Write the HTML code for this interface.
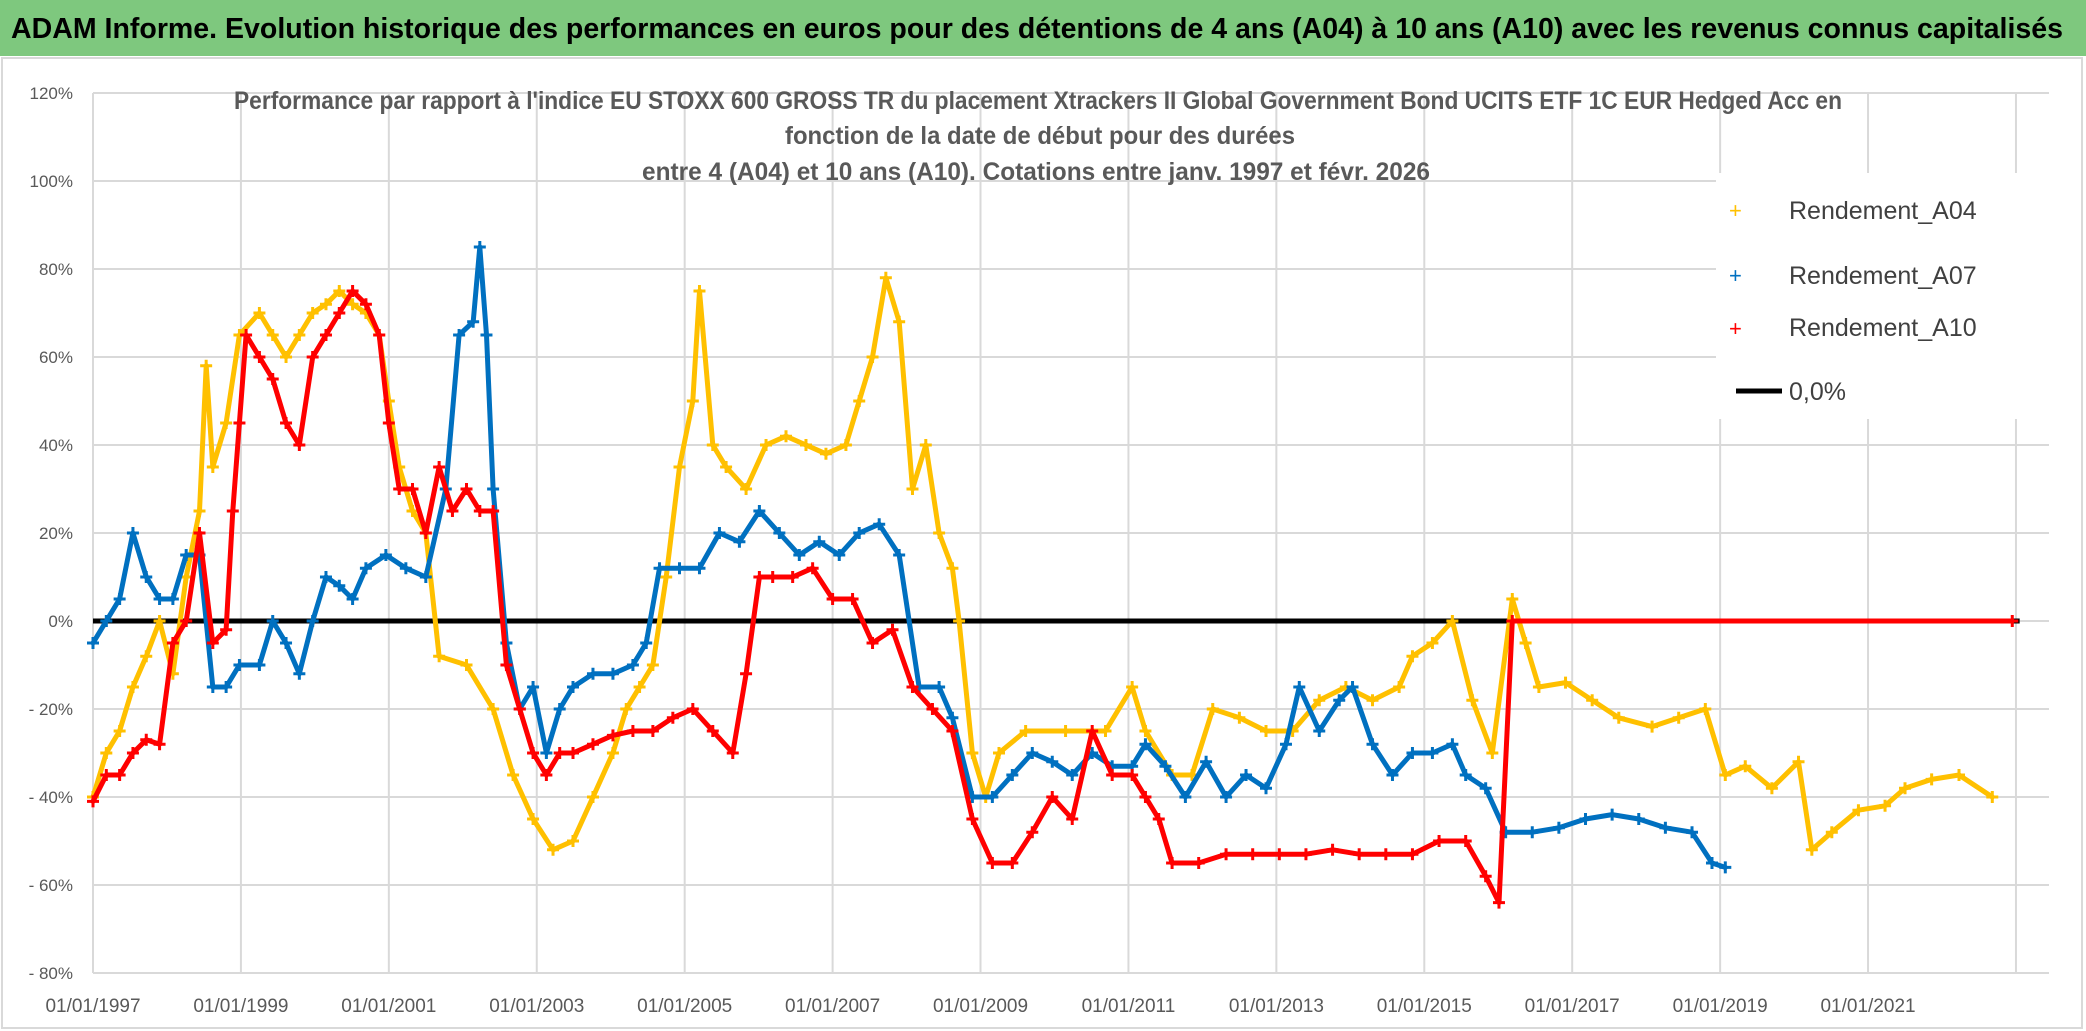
<!DOCTYPE html>
<html><head><meta charset="utf-8"><style>
html,body{margin:0;padding:0;background:#fff}
svg{display:block}
text{font-family:"Liberation Sans",sans-serif}
</style></head><body>
<svg id="chart" width="2086" height="1031" viewBox="0 0 2086 1031" xmlns="http://www.w3.org/2000/svg">
<rect x="0" y="0" width="2086" height="1031" fill="#fff"/>
<rect x="0" y="0" width="2086" height="56" fill="#7ec87e"/>
<text x="11" y="38" font-size="29" font-weight="bold" fill="#000" textLength="2052" lengthAdjust="spacingAndGlyphs">ADAM Informe. Evolution historique des performances en euros pour des détentions de 4 ans (A04) à 10 ans (A10) avec les revenus connus capitalisés</text>
<rect x="2" y="58" width="2080" height="970" fill="none" stroke="#d9d9d9" stroke-width="2"/>
<g id="grid"></g>
<g id="axes"></g>
<text x="1038" y="109" font-size="25" font-weight="bold" fill="#595959" text-anchor="middle" textLength="1608" lengthAdjust="spacingAndGlyphs">Performance par rapport à l'indice EU STOXX 600 GROSS TR  du placement Xtrackers II Global Government Bond UCITS ETF 1C EUR Hedged Acc en</text>
<text x="1040" y="144" font-size="25" font-weight="bold" fill="#595959" text-anchor="middle" textLength="510" lengthAdjust="spacingAndGlyphs">fonction de la date de début pour des durées</text>
<text x="1036" y="180" font-size="25" font-weight="bold" fill="#595959" text-anchor="middle" textLength="788" lengthAdjust="spacingAndGlyphs">entre 4 (A04) et 10 ans (A10). Cotations entre janv. 1997 et févr. 2026</text>
<g id="series"></g>
<g>
<rect x="1716" y="173" width="333" height="246" fill="#fff"/>
<text x="1729" y="218" font-size="22" fill="#ffc000">+</text>
<text x="1789" y="219" font-size="25" fill="#404040">Rendement_A04</text>
<text x="1729" y="283" font-size="22" fill="#0070c0">+</text>
<text x="1789" y="284" font-size="25" fill="#404040">Rendement_A07</text>
<text x="1729" y="336" font-size="22" fill="#ff0000">+</text>
<text x="1789" y="336" font-size="25" fill="#404040">Rendement_A10</text>
<line x1="1736" y1="391" x2="1782" y2="391" stroke="#000" stroke-width="5"/>
<text x="1789" y="400" font-size="25" fill="#404040">0,0%</text>
</g>
</svg>
<script>
const yTicks=[120,100,80,60,40,20,0,-20,-40,-60,-80];
const yTickLabels=["120%","100%","80%","60%","40%","20%","0%","- 20%","- 40%","- 60%","- 80%"];
const xTicks=[1997,1999,2001,2003,2005,2007,2009,2011,2013,2015,2017,2019,2021];
const xTickLabels=["01/01/1997","01/01/1999","01/01/2001","01/01/2003","01/01/2005","01/01/2007","01/01/2009","01/01/2011","01/01/2013","01/01/2015","01/01/2017","01/01/2019","01/01/2021"];
const a04Dates=[1997.0,1997.18,1997.36,1997.54,1997.72,1997.9,1998.08,1998.26,1998.44,1998.53,1998.62,1998.8,1998.98,1999.25,1999.43,1999.61,1999.79,1999.97,2000.15,2000.33,2000.51,2000.69,2000.87,2001.0,2001.14,2001.32,2001.5,2001.68,2002.05,2002.41,2002.68,2002.95,2003.22,2003.49,2003.76,2004.03,2004.21,2004.39,2004.57,2004.75,2004.93,2005.11,2005.2,2005.38,2005.56,2005.83,2006.1,2006.37,2006.64,2006.91,2007.18,2007.36,2007.54,2007.72,2007.9,2008.08,2008.26,2008.44,2008.62,2008.71,2008.89,2009.07,2009.25,2009.61,2010.15,2010.69,2011.05,2011.23,2011.59,2011.86,2012.14,2012.5,2012.86,2013.22,2013.58,2013.94,2014.3,2014.66,2014.84,2015.11,2015.38,2015.65,2015.92,2016.19,2016.37,2016.55,2016.91,2017.27,2017.63,2018.08,2018.44,2018.8,2019.07,2019.34,2019.7,2020.06,2020.24,2020.51,2020.87,2021.23,2021.5,2021.86,2022.23,2022.68];
const a04Values=[-40,-30,-25,-15,-8,0,-12,10,25,58,35,45,65,70,65,60,65,70,72,75,72,70,65,50,35,25,20,-8,-10,-20,-35,-45,-52,-50,-40,-30,-20,-15,-10,10,35,50,75,40,35,30,40,42,40,38,40,50,60,78,68,30,40,20,12,0,-30,-40,-30,-25,-25,-25,-15,-25,-35,-35,-20,-22,-25,-25,-18,-15,-18,-15,-8,-5,0,-18,-30,5,-5,-15,-14,-18,-22,-24,-22,-20,-35,-33,-38,-32,-52,-48,-43,-42,-38,-36,-35,-40];
const a07Dates=[1997.0,1997.18,1997.36,1997.54,1997.72,1997.9,1998.08,1998.26,1998.44,1998.62,1998.8,1998.98,1999.25,1999.43,1999.61,1999.79,1999.97,2000.15,2000.33,2000.51,2000.69,2000.96,2001.23,2001.5,2001.77,2001.95,2002.14,2002.23,2002.32,2002.41,2002.59,2002.77,2002.95,2003.13,2003.31,2003.49,2003.76,2004.03,2004.3,2004.48,2004.66,2004.93,2005.2,2005.47,2005.74,2006.01,2006.28,2006.55,2006.82,2007.09,2007.36,2007.63,2007.9,2008.17,2008.44,2008.62,2008.89,2009.16,2009.43,2009.7,2009.97,2010.24,2010.51,2010.78,2011.05,2011.23,2011.5,2011.77,2012.05,2012.32,2012.59,2012.86,2013.13,2013.31,2013.58,2013.85,2014.03,2014.3,2014.57,2014.84,2015.11,2015.38,2015.56,2015.83,2016.1,2016.46,2016.82,2017.18,2017.54,2017.9,2018.26,2018.62,2018.89,2019.07];
const a07Values=[-5,0,5,20,10,5,5,15,15,-15,-15,-10,-10,0,-5,-12,0,10,8,5,12,15,12,10,30,65,68,85,65,30,-5,-20,-15,-30,-20,-15,-12,-12,-10,-5,12,12,12,20,18,25,20,15,18,15,20,22,15,-15,-15,-22,-40,-40,-35,-30,-32,-35,-30,-33,-33,-28,-33,-40,-32,-40,-35,-38,-28,-15,-25,-18,-15,-28,-35,-30,-30,-28,-35,-38,-48,-48,-47,-45,-44,-45,-47,-48,-55,-56];
const a10Dates=[1997.0,1997.18,1997.36,1997.54,1997.72,1997.9,1998.08,1998.26,1998.44,1998.62,1998.8,1998.89,1998.98,1999.07,1999.25,1999.43,1999.61,1999.79,1999.97,2000.15,2000.33,2000.51,2000.69,2000.87,2001.0,2001.14,2001.32,2001.5,2001.68,2001.86,2002.05,2002.23,2002.41,2002.59,2002.77,2002.95,2003.13,2003.31,2003.49,2003.76,2004.03,2004.3,2004.57,2004.84,2005.11,2005.38,2005.65,2005.83,2006.01,2006.19,2006.46,2006.73,2007.0,2007.27,2007.54,2007.81,2008.08,2008.35,2008.62,2008.89,2009.16,2009.43,2009.7,2009.97,2010.24,2010.51,2010.78,2011.05,2011.23,2011.41,2011.59,2011.95,2012.32,2012.68,2013.04,2013.4,2013.76,2014.12,2014.48,2014.84,2015.2,2015.56,2015.83,2016.01,2016.19,2022.95];
const a10Values=[-41,-35,-35,-30,-27,-28,-5,0,20,-5,-2,25,45,65,60,55,45,40,60,65,70,75,72,65,45,30,30,20,35,25,30,25,25,-10,-20,-30,-35,-30,-30,-28,-26,-25,-25,-22,-20,-25,-30,-12,10,10,10,12,5,5,-5,-2,-15,-20,-25,-45,-55,-55,-48,-40,-45,-25,-35,-35,-40,-45,-55,-55,-53,-53,-53,-53,-52,-53,-53,-53,-50,-50,-58,-64,0,0];

const NS="http://www.w3.org/2000/svg";
const X0=93, PX_PER_YEAR=73.96, Y0=621, PX_PER_PCT=4.4;
function xScale(year){return X0+(year-1997)*PX_PER_YEAR;}
function yScale(v){return Y0-v*PX_PER_PCT;}
function mk(tag,attrs,parent){const e=document.createElementNS(NS,tag);for(const k in attrs)e.setAttribute(k,attrs[k]);parent.appendChild(e);return e;}

const grid=document.getElementById('grid'), axes=document.getElementById('axes'), series=document.getElementById('series');
yTicks.forEach((v,i)=>{
  const l=mk('line',{x1:X0,x2:2049,y1:yScale(v),y2:yScale(v),stroke:'#d9d9d9','stroke-width':2},grid);
  
  
  const t=mk('text',{x:73,y:yScale(v)+6,'font-size':17,fill:'#595959','text-anchor':'end'},axes);
  t.textContent=yTickLabels[i];
  
  
});
xTicks.concat([2023]).forEach((yr)=>{
  const l=mk('line',{x1:xScale(yr),x2:xScale(yr),y1:yScale(120),y2:yScale(-80),stroke:'#d9d9d9','stroke-width':2},grid);
  
  
});
xTicks.forEach((yr,i)=>{
  const t=mk('text',{x:xScale(yr),y:1012,'font-size':19,fill:'#595959','text-anchor':'middle'},axes);
  t.textContent=xTickLabels[i];
  
  
});
const zl=mk('line',{x1:X0,x2:xScale(2023.05),y1:yScale(0),y2:yScale(0),stroke:'#000','stroke-width':5},series);



function drawSeries(dates,vals,color,name){
  const g=mk('g',{},series);
  
  
  const pts=dates.map((d,i)=>xScale(d).toFixed(1)+','+yScale(vals[i]).toFixed(1)).join(' ');
  const pl=mk('polyline',{points:pts,fill:'none',stroke:color,'stroke-width':5,'stroke-linejoin':'round','stroke-linecap':'round'},g);
  
  
  dates.forEach((d,i)=>{
    const x=xScale(d),y=yScale(vals[i]);
    const p=mk('path',{d:`M${x-6},${y}H${x+6}M${x},${y-6}V${y+6}`,stroke:color,'stroke-width':3},g);
    
    
  });
}
drawSeries(a04Dates,a04Values,'#ffc000','series-a04');
drawSeries(a07Dates,a07Values,'#0070c0','series-a07');
drawSeries(a10Dates,a10Values,'#ff0000','series-a10');
</script>
</body></html>
